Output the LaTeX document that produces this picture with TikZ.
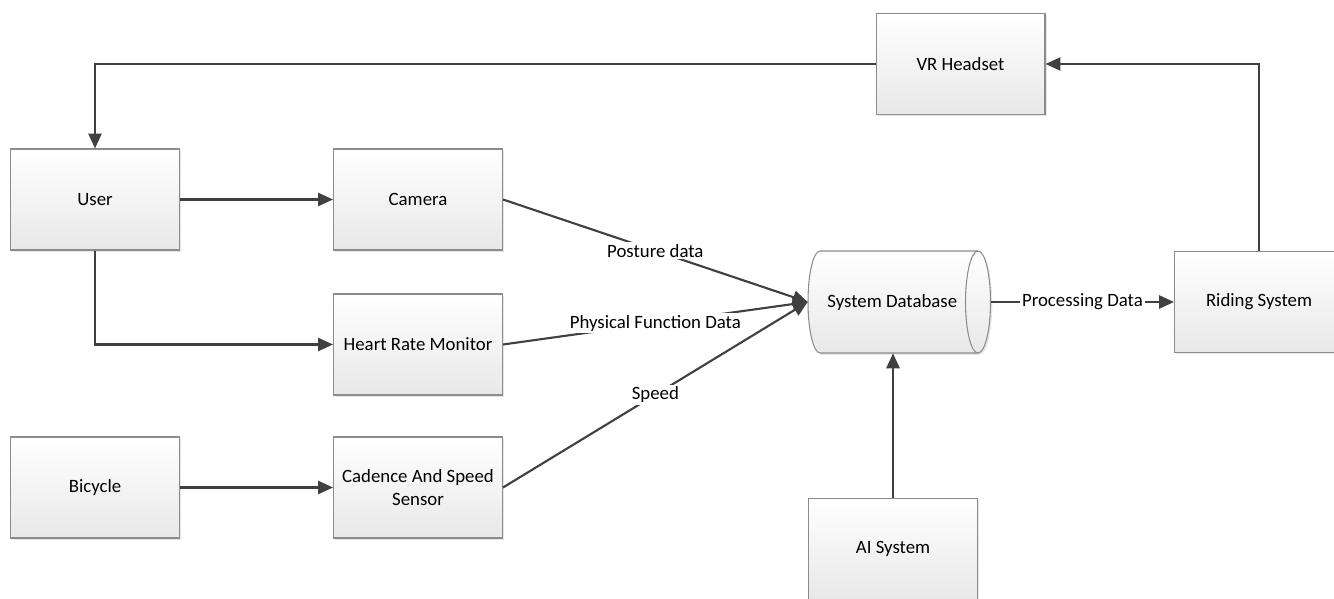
\documentclass[tikz,border=0pt]{standalone}
\usepackage{fontspec}
\setmainfont{Carlito}
\usetikzlibrary{arrows.meta, shadows}

\begin{document}
\begin{tikzpicture}[x=0.02cm, y=0.02cm,
  blk/.style={draw=black!45, line width=0.6pt, top color=white, bottom color=black!9,
    minimum width=3.38cm, minimum height=2.02cm, align=center,
    font=\fontsize{10.7}{13}\selectfont,
    drop shadow={shadow xshift=1pt, shadow yshift=-1pt, opacity=0.2}},
  flow/.style={draw=black!75, line width=1.2pt, -{Triangle[length=8.5pt, width=7.5pt]}},
  lbl/.style={fill=white, inner sep=1pt, font=\fontsize{10.7}{13}\selectfont}]
\useasboundingbox (0, 0) rectangle (1334, 598);

% database drum
\path[draw=black!45, line width=0.6pt, top color=white, bottom color=black!9,
  drop shadow={shadow xshift=1pt, shadow yshift=-1pt, opacity=0.2}]
  (978, 347) -- (820, 347) arc[start angle=90, end angle=270, x radius=12, y radius=51]
  -- (978, 245) arc[start angle=-90, end angle=90, x radius=12.5, y radius=51] -- cycle;
\draw[black!45, line width=0.6pt] (978, 347) arc[start angle=90, end angle=270, x radius=12.5, y radius=51];

\node[blk] (user) at (95, 398.5){User};
\node[blk] (cam) at (418, 398.5){Camera};
\node[blk] (hrm) at (418, 253.5){Heart Rate Monitor};
\node[blk] (bike) at (95, 110.5){Bicycle};
\node[blk] (cad) at (418, 110.5){Cadence And Speed\\Sensor};
\node[blk] (vr) at (960.5, 534){VR Headset};
\node[blk] (ride) at (1259, 296){Riding System};
\node[blk] (ai) at (893, 49){AI System};
\node[minimum width=3.65cm, minimum height=2.04cm, font=\fontsize{10.7}{13}\selectfont] (db) at (899.25, 296){System Database\kern0.28cm};

\draw[flow] (vr.west) -| (user.north);
\draw[flow] (user) -- (cam);
\draw[flow] (user.south) |- (hrm.west);
\draw[flow] (bike) -- (cad);
\draw[flow] (cam.east) -- node[lbl]{Posture data} (db.west);
\draw[flow] (hrm.east) -- node[lbl]{Physical Function Data} (db.west);
\draw[flow] (cad.east) -- node[lbl]{Speed} (db.west);
\draw[flow] (db.east) -- node[lbl]{Processing Data} (ride.west);
\draw[flow] (ai.north) -- (ai.north |- db.south);
\draw[flow] (ride.north) |- (vr.east);
\end{tikzpicture}
\end{document}
